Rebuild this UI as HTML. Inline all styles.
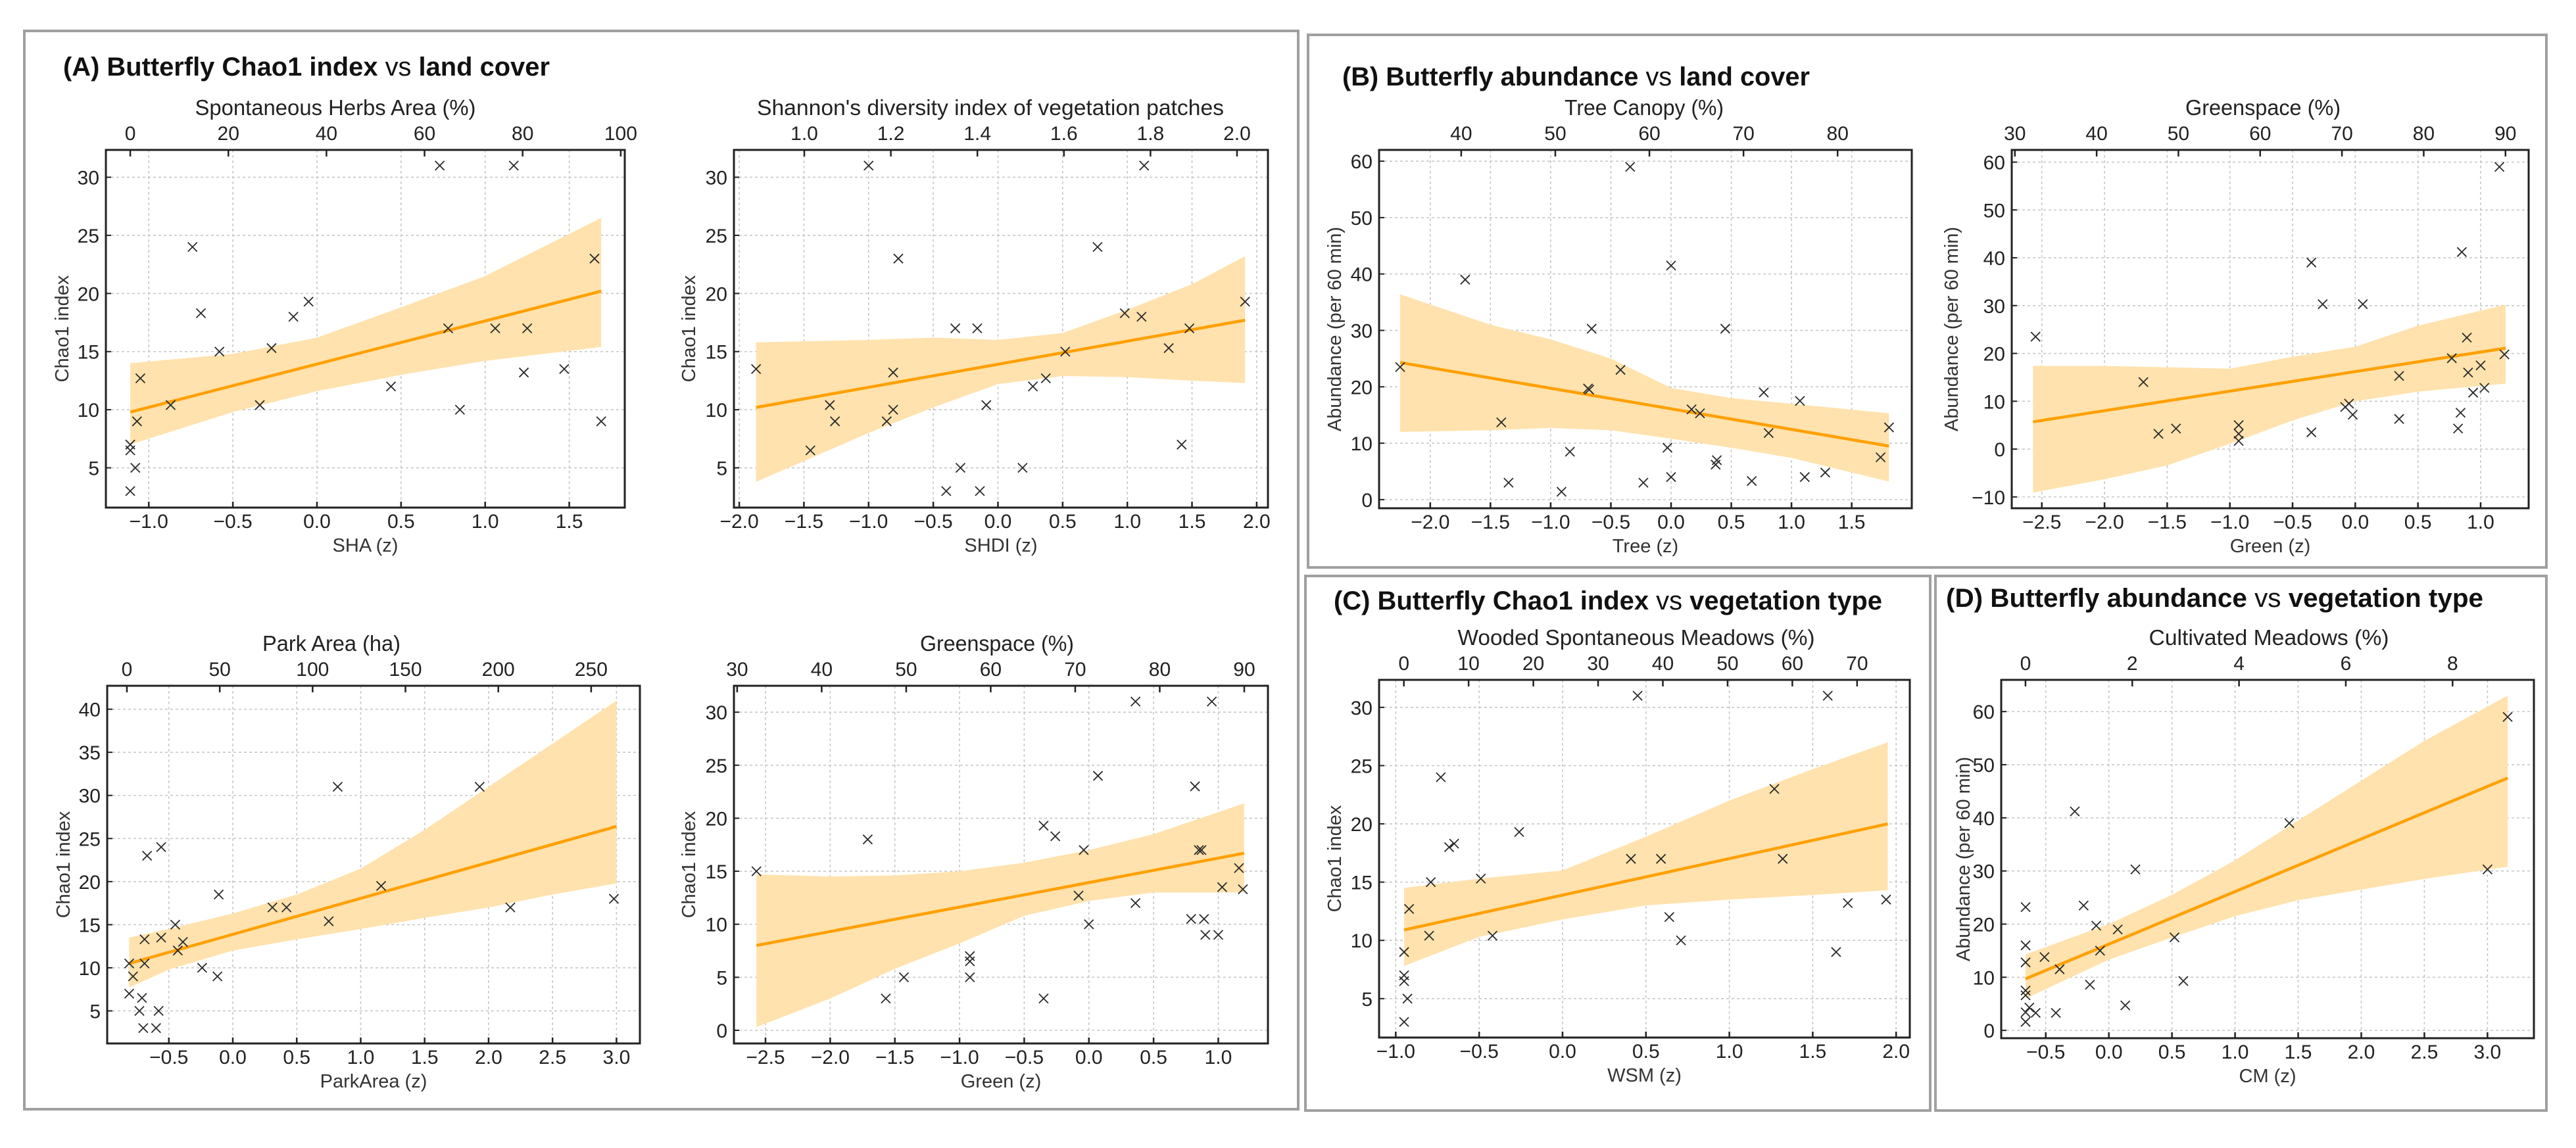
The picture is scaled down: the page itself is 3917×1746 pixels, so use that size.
<!DOCTYPE html>
<html><head><meta charset="utf-8"><style>
html,body{margin:0;padding:0;background:#fff;}
svg{display:block;font-family:"Liberation Sans",Arial,sans-serif;}
</style></head><body>
<svg id="fig" width="3917" height="1746" viewBox="0 0 3917 1746" xmlns="http://www.w3.org/2000/svg">
<rect x="0" y="0" width="3917" height="1746" fill="#fff"/>
</svg>
<script>
// ---------- DATA ----------
const a1X=[0.73,1.17,-0.74,1.65,-0.05,-0.69,-0.14,0.78,1.06,1.25,-0.58,-0.27,-1.05,1.23,1.47,0.44,-0.87,-0.34,0.85,-1.07,1.69,-1.11,-1.11,-1.08,-1.11];
const a1Y=[31,31,24,23,19.3,18.3,18,17,17,17,15,15.3,12.7,13.2,13.5,12,10.4,10.4,10,9,9,7,6.5,5,3];
const a1LineX=[-1.11,1.69];
const a1LineY=[9.8,20.2];
const a1BandX=[-1.11,-0.5,0,0.5,1.0,1.69];
const a1BandLo=[7,9.8,11.6,13.0,14.2,15.4];
const a1BandHi=[14,14.8,16.2,18.8,21.5,26.5];
const a1XTicks=[-1.0,-0.5,0.0,0.5,1.0,1.5];
const a1YTicks=[5,10,15,20,25,30];
const a1TopTicks=[0,20,40,60,80,100];

const a2X=[-1.0,1.13,0.77,-0.77,1.91,0.98,1.11,-0.33,-0.16,1.48,0.52,1.32,-1.87,-0.81,0.37,0.27,-1.30,-0.09,-0.81,-1.26,-0.86,1.42,-1.45,-0.29,0.19,-0.40,-0.14];
const a2Y=[31,31,24,23,19.3,18.3,18,17,17,17,15,15.3,13.5,13.2,12.7,12,10.4,10.4,10,9,9,7,6.5,5,5,3,3];
const a2LineX=[-1.87,1.91];
const a2LineY=[10.2,17.7];
const a2BandX=[-1.87,-1,-0.5,0,0.5,1.0,1.5,1.91];
const a2BandLo=[3.8,8.0,10.2,12.2,12.9,12.8,12.5,12.3];
const a2BandHi=[15.8,16.0,16.2,16.0,16.6,18.6,20.8,23.2];
const a2XTicks=[-2.0,-1.5,-1.0,-0.5,0.0,0.5,1.0,1.5,2.0];
const a2YTicks=[5,10,15,20,25,30];
const a2TopTicks=[1.0,1.2,1.4,1.6,1.8,2.0];

const a3X=[0.82,1.93,-0.56,-0.67,1.16,-0.11,2.98,0.31,0.42,2.17,0.75,-0.45,-0.69,-0.56,-0.39,-0.43,-0.24,-0.81,-0.69,-0.12,-0.78,-0.81,-0.71,-0.73,-0.58,-0.70,-0.60];
const a3Y=[31,31,24,23,19.5,18.5,18,17,17,17,15.4,15,13.3,13.5,13,12,10,10.5,10.5,9,9,7,6.5,5,5,3,3];
const a3LineX=[-0.81,3.0];
const a3LineY=[10.5,26.4];
const a3BandX=[-0.81,-0.5,0,0.5,1,1.5,2,2.5,3];
const a3BandLo=[7.7,9.8,12,13.3,14.5,15.8,17,18.5,19.8];
const a3BandHi=[13.5,14.5,16.3,18.5,21.5,26,31,36,41];
const a3XTicks=[-0.5,0.0,0.5,1.0,1.5,2.0,2.5,3.0];
const a3YTicks=[5,10,15,20,25,30,35,40];
const a3TopTicks=[0,50,100,150,200,250];

const a4X=[0.36,0.95,0.07,0.82,-1.71,-0.35,-0.26,-0.04,0.85,0.87,-2.57,1.16,1.03,1.19,-0.08,0.36,0.0,0.79,0.89,0.9,1.0,-0.92,-0.92,-0.92,-1.43,-1.57,-0.35];
const a4Y=[31,31,24,23,18,19.3,18.3,17,17,17,15,15.3,13.5,13.3,12.7,12,10,10.5,10.5,9,9,7,6.5,5,5,3,3];
const a4LineX=[-2.57,1.2];
const a4LineY=[8.0,16.7];
const a4BandX=[-2.57,-2,-1.5,-1,-0.5,0,0.5,1.2];
const a4BandLo=[0.3,3,5.8,8.2,10.8,12.2,13,13];
const a4BandHi=[14.7,14.5,14.6,15,15.8,17,18.5,21.4];
const a4XTicks=[-2.5,-2.0,-1.5,-1.0,-0.5,0.0,0.5,1.0];
const a4YTicks=[0,5,10,15,20,25,30];
const a4TopTicks=[30,40,50,60,70,80,90];

const b1X=[-0.34,-1.71,0.0,-0.66,0.45,-0.42,-2.25,-0.69,-0.68,0.77,1.07,0.17,0.24,-1.41,0.81,1.81,-0.03,-0.84,1.74,0.38,0.37,-1.35,-0.23,0.0,-0.91,0.67,1.11,1.28];
const b1Y=[59,39,41.5,30.3,30.3,23,23.5,19.7,19.5,19,17.5,16,15.3,13.7,11.8,12.8,9.2,8.5,7.5,7,6.2,3,3,4,1.4,3.3,4,4.8];
const b1LineX=[-2.25,1.81];
const b1LineY=[24.3,9.5];
const b1BandX=[-2.25,-1.5,-1,-0.5,0,0.5,1,1.81];
const b1BandLo=[12,12.3,12.7,12.3,10.8,9.2,7.4,3.2];
const b1BandHi=[36.4,31,28.4,25,19.8,18,17,15.3];
const b1XTicks=[-2.0,-1.5,-1.0,-0.5,0.0,0.5,1.0,1.5];
const b1YTicks=[0,10,20,30,40,50,60];
const b1TopTicks=[40,50,60,70,80];

const b2X=[1.15,0.85,-0.35,-0.26,0.06,-2.55,0.89,1.19,0.77,1.0,0.9,-1.69,0.35,1.03,0.94,-0.08,-0.05,-0.02,0.35,0.84,0.82,-1.57,-1.43,-0.93,-0.93,-0.93,-0.35];
const b2Y=[59,41.2,39,30.3,30.3,23.5,23.3,19.8,19,17.5,16,14,15.3,12.8,11.8,8.8,9.5,7.2,6.3,7.6,4.3,3.2,4.3,5,3.2,1.7,3.5];
const b2LineX=[-2.57,1.2];
const b2LineY=[5.7,21.1];
const b2BandX=[-2.57,-2,-1.5,-1,-0.5,0,0.5,1.2];
const b2BandLo=[-9.1,-6.3,-3.4,1.1,6.0,10.0,12,13.7];
const b2BandHi=[17.4,17.4,17.1,16.8,19.3,21.4,25.8,30.2];
const b2XTicks=[-2.5,-2.0,-1.5,-1.0,-0.5,0.0,0.5,1.0];
const b2YTicks=[-10,0,10,20,30,40,50,60];
const b2TopTicks=[30,40,50,60,70,80,90];

const cX=[0.45,1.59,-0.73,1.27,-0.26,-0.65,-0.68,0.41,0.59,1.32,-0.79,-0.49,-0.92,1.71,1.94,0.64,-0.80,-0.42,0.71,-0.95,1.64,-0.95,-0.95,-0.93,-0.95];
const cY=[31,31,24,23,19.3,18.3,18,17,17,17,15,15.3,12.7,13.2,13.5,12,10.4,10.4,10,9,9,7,6.5,5,3];
const cLineX=[-0.95,1.95];
const cLineY=[10.9,20.0];
const cBandX=[-0.95,-0.5,0,0.5,1.0,1.5,1.95];
const cBandLo=[7.8,10.3,11.8,13.0,13.5,13.9,14.3];
const cBandHi=[14.5,15.3,16.0,18.9,22,24.7,27];
const cXTicks=[-1.0,-0.5,0.0,0.5,1.0,1.5,2.0];
const cYTicks=[5,10,15,20,25,30];
const cTopTicks=[0,10,20,30,40,50,60,70];

const dX=[3.16,-0.27,1.43,0.21,3.0,-0.66,-0.2,-0.1,0.07,0.52,-0.66,-0.07,-0.51,-0.39,-0.66,-0.15,0.59,-0.66,-0.66,0.13,-0.63,-0.66,-0.42,-0.58,-0.66];
const dY=[59,41.2,39,30.3,30.3,23.2,23.5,19.7,19,17.5,16,15,13.8,11.5,12.8,8.6,9.3,7.5,6.6,4.7,4.3,3.4,3.3,3.3,1.6];
const dLineX=[-0.66,3.16];
const dLineY=[9.7,47.5];
const dBandX=[-0.66,0,0.5,1.0,1.5,2.0,2.5,3.16];
const dBandLo=[6.0,13.3,17.5,21.5,24.5,26.5,28.5,30.8];
const dBandHi=[14.3,20,25.5,32,39.5,47,54.5,63];
const dXTicks=[-0.5,0.0,0.5,1.0,1.5,2.0,2.5,3.0];
const dYTicks=[0,10,20,30,40,50,60];
const dTopTicks=[0,2,4,6,8];

// ---------- LAYOUT ----------
const plots=[
 {k:'a1',L:161,R:950,T:228,B:772,xmin:-1.255,xmax:1.830,ymin:1.58,ymax:32.35,tv0:0,tz0:-1.110,tk:0.02916,tdec:0,
  X:a1X,Y:a1Y,lx:a1LineX,ly:a1LineY,bx:a1BandX,blo:a1BandLo,bhi:a1BandHi,xt:a1XTicks,yt:a1YTicks,tt:a1TopTicks,
  top:'Spontaneous Herbs Area (%)',tcx:510,tw:427,xl:'SHA (z)',yl:'Chao1 index',ylx:94},
 {k:'a2',L:1116,R:1928,T:228,B:772,xmin:-2.041,xmax:2.087,ymin:1.58,ymax:32.35,tv0:1,tz0:-1.497,tk:3.345,tdec:1,
  X:a2X,Y:a2Y,lx:a2LineX,ly:a2LineY,bx:a2BandX,blo:a2BandLo,bhi:a2BandHi,xt:a2XTicks,yt:a2YTicks,tt:a2TopTicks,
  top:"Shannon's diversity index of vegetation patches",tcx:1506,tw:710,xl:'SHDI (z)',yl:'Chao1 index',ylx:1047},
 {k:'a3',L:163,R:973,T:1043,B:1587,xmin:-0.982,xmax:3.183,ymin:1.22,ymax:42.72,tv0:0,tz0:-0.828,tk:0.01452,tdec:0,
  X:a3X,Y:a3Y,lx:a3LineX,ly:a3LineY,bx:a3BandX,blo:a3BandLo,bhi:a3BandHi,xt:a3XTicks,yt:a3YTicks,tt:a3TopTicks,
  top:'Park Area (ha)',tcx:504,tw:210,xl:'ParkArea (z)',yl:'Chao1 index',ylx:96},
 {k:'a4',L:1116,R:1928,T:1043,B:1587,xmin:-2.744,xmax:1.384,ymin:-1.24,ymax:32.49,tv0:30,tz0:-2.719,tk:0.06533,tdec:0,
  X:a4X,Y:a4Y,lx:a4LineX,ly:a4LineY,bx:a4BandX,blo:a4BandLo,bhi:a4BandHi,xt:a4XTicks,yt:a4YTicks,tt:a4TopTicks,
  top:'Greenspace (%)',tcx:1516,tw:234,xl:'Green (z)',yl:'Chao1 index',ylx:1047},
 {k:'b1',L:2097,R:2907,T:228,B:773,xmin:-2.425,xmax:1.999,ymin:-1.53,ymax:62.0,tv0:40,tz0:-1.743,tk:0.07815,tdec:0,
  X:b1X,Y:b1Y,lx:b1LineX,ly:b1LineY,bx:b1BandX,blo:b1BandLo,bhi:b1BandHi,xt:b1XTicks,yt:b1YTicks,tt:b1TopTicks,
  top:'Tree Canopy (%)',tcx:2500,tw:242,xl:'Tree (z)',yl:'Abundance (per 60 min)',ylx:2029},
 {k:'b2',L:3059,R:3845,T:228,B:773,xmin:-2.740,xmax:1.383,ymin:-12.37,ymax:62.55,tv0:30,tz0:-2.715,tk:0.06522,tdec:0,
  X:b2X,Y:b2Y,lx:b2LineX,ly:b2LineY,bx:b2BandX,blo:b2BandLo,bhi:b2BandHi,xt:b2XTicks,yt:b2YTicks,tt:b2TopTicks,
  top:'Greenspace (%)',tcx:3441,tw:236,xl:'Green (z)',yl:'Abundance (per 60 min)',ylx:2967},
 {k:'c',L:2097,R:2904,T:1034,B:1578,xmin:-1.100,xmax:2.082,ymin:1.66,ymax:32.36,tv0:0,tz0:-0.9515,tk:0.03882,tdec:0,
  X:cX,Y:cY,lx:cLineX,ly:cLineY,bx:cBandX,blo:cBandLo,bhi:cBandHi,xt:cXTicks,yt:cYTicks,tt:cTopTicks,
  top:'Wooded Spontaneous Meadows (%)',tcx:2488,tw:543,xl:'WSM (z)',yl:'Chao1 index',ylx:2029},
 {k:'d',L:3043,R:3853,T:1034,B:1579,xmin:-0.853,xmax:3.368,ymin:-1.47,ymax:65.97,tv0:0,tz0:-0.6606,tk:0.423,tdec:0,
  X:dX,Y:dY,lx:dLineX,ly:dLineY,bx:dBandX,blo:dBandLo,bhi:dBandHi,xt:dXTicks,yt:dYTicks,tt:dTopTicks,
  top:'Cultivated Meadows (%)',tcx:3450,tw:365,xl:'CM (z)',yl:'Abundance (per 60 min)',ylx:2985}
];

const panels=[
 {id:'a',x:37,y:47,w:1937,h:1640,t1:'(A) Butterfly Chao1 index',t2:'land cover',tx:96,ty:115,tw:740},
 {id:'b',x:1989,y:53,w:1883,h:810,t1:'(B) Butterfly abundance',t2:'land cover',tx:2041,ty:130,tw:711},
 {id:'c',x:1985,y:876,w:950,h:813,t1:'(C) Butterfly Chao1 index',t2:'vegetation type',tx:2028,ty:927,tw:834},
 {id:'d',x:2943,y:876,w:929,h:813,t1:'(D) Butterfly abundance',t2:'vegetation type',tx:2959,ty:923,tw:817}
];

// ---------- DRAW ----------
const NS='http://www.w3.org/2000/svg';
const svg=document.getElementById('fig');
function mk(tag,attrs,parent){
  const e=document.createElementNS(NS,tag);
  for(const a in attrs) e.setAttribute(a,attrs[a]);
  (parent||svg).appendChild(e);
  return e;
}
function fmt(v,d){const s=Math.abs(v).toFixed(d);return (v<0?'\u2212':'')+s;}

panels.forEach(p=>{
  const g=mk('g',{});
  
  
  const r=mk('rect',{x:p.x,y:p.y,width:p.w,height:p.h,fill:'none',stroke:'#a0a0a0','stroke-width':4},g);
  
  
  const t=mk('text',{x:p.tx,y:p.ty,'font-size':40,fill:'#111',textLength:p.tw,lengthAdjust:'spacingAndGlyphs'},g);
  
  
  const s1=mk('tspan',{'font-weight':'bold'},t); s1.textContent=p.t1+' ';
  const s2=mk('tspan',{'font-weight':'normal'},t); s2.textContent='vs ';
  const s3=mk('tspan',{'font-weight':'bold'},t); s3.textContent=p.t2;
});

plots.forEach(p=>{
  const sx=v=>p.L+(v-p.xmin)/(p.xmax-p.xmin)*(p.R-p.L);
  const sy=v=>p.B-(v-p.ymin)/(p.ymax-p.ymin)*(p.B-p.T);
  const g=mk('g',{});
  
  
  const cid='clip-'+p.k;
  const cp=mk('clipPath',{id:cid},g);
  mk('rect',{x:p.L,y:p.T,width:p.R-p.L,height:p.B-p.T},cp);
  const pg=mk('g',{'clip-path':'url(#'+cid+')'},g);
  p.xt.forEach(v=>{
    const l=mk('line',{x1:sx(v),x2:sx(v),y1:p.T,y2:p.B,stroke:'#c8c8c8','stroke-width':1.6,'stroke-dasharray':'4,4'},pg);
    
    
  });
  p.yt.forEach(v=>{
    const l=mk('line',{x1:p.L,x2:p.R,y1:sy(v),y2:sy(v),stroke:'#c8c8c8','stroke-width':1.6,'stroke-dasharray':'4,4'},pg);
    
    
  });
  let pts=[];
  for(let i=0;i<p.bx.length;i++) pts.push(sx(p.bx[i])+','+sy(p.bhi[i]));
  for(let i=p.bx.length-1;i>=0;i--) pts.push(sx(p.bx[i])+','+sy(p.blo[i]));
  const band=mk('polygon',{points:pts.join(' '),fill:'#ffe2ad',stroke:'none'},pg);
  
  
  const rl=mk('line',{x1:sx(p.lx[0]),y1:sy(p.ly[0]),x2:sx(p.lx[1]),y2:sy(p.ly[1]),stroke:'#ffa000','stroke-width':4.5},pg);
  
  
  for(let i=0;i<p.X.length;i++){
    const cx=sx(p.X[i]),cy=sy(p.Y[i]),h=7;
    const m=mk('path',{d:`M${cx-h},${cy-h}L${cx+h},${cy+h}M${cx-h},${cy+h}L${cx+h},${cy-h}`,stroke:'#2a2a2a','stroke-width':1.8,fill:'none'},pg);
    
    
  }
  const fr=mk('rect',{x:p.L,y:p.T,width:p.R-p.L,height:p.B-p.T,fill:'none',stroke:'#222','stroke-width':3},g);
  
  
  p.xt.forEach(v=>{
    const x=sx(v);
    mk('line',{x1:x,x2:x,y1:p.B,y2:p.B-9,stroke:'#222','stroke-width':2.5},g);
    const t=mk('text',{x:x,y:p.B+31,'font-size':30,'text-anchor':'middle',fill:'#222'},g);
    
    
    t.textContent=fmt(v,1);
  });
  p.tt.forEach(v=>{
    const x=sx(p.tz0+(v-p.tv0)*p.tk);
    mk('line',{x1:x,x2:x,y1:p.T,y2:p.T+10,stroke:'#222','stroke-width':2.5},g);
    const t=mk('text',{x:x,y:p.T-15,'font-size':30,'text-anchor':'middle',fill:'#222'},g);
    
    
    t.textContent=fmt(v,p.tdec);
  });
  p.yt.forEach(v=>{
    const y=sy(v);
    mk('line',{x1:p.L,x2:p.L+8,y1:y,y2:y,stroke:'#222','stroke-width':2},g);
    const t=mk('text',{x:p.L-10,y:y+11,'font-size':30,'text-anchor':'end',fill:'#222'},g);
    
    
    t.textContent=fmt(v,0);
  });
  const tl=mk('text',{x:p.tcx,y:p.T-53,'font-size':33,'text-anchor':'middle',fill:'#222',textLength:p.tw,lengthAdjust:'spacingAndGlyphs'},g);
  
  
  tl.textContent=p.top;
  const xl=mk('text',{x:(p.L+p.R)/2,y:p.B+67,'font-size':29,'text-anchor':'middle',fill:'#333'},g);
  
  
  xl.textContent=p.xl;
  const my=(p.T+p.B)/2;
  const yl=mk('text',{x:p.ylx+10,y:my,'font-size':29,'text-anchor':'middle',fill:'#333',transform:`rotate(-90 ${p.ylx+10} ${my})`},g);
  
  
  yl.textContent=p.yl;
});
</script>
</body></html>
